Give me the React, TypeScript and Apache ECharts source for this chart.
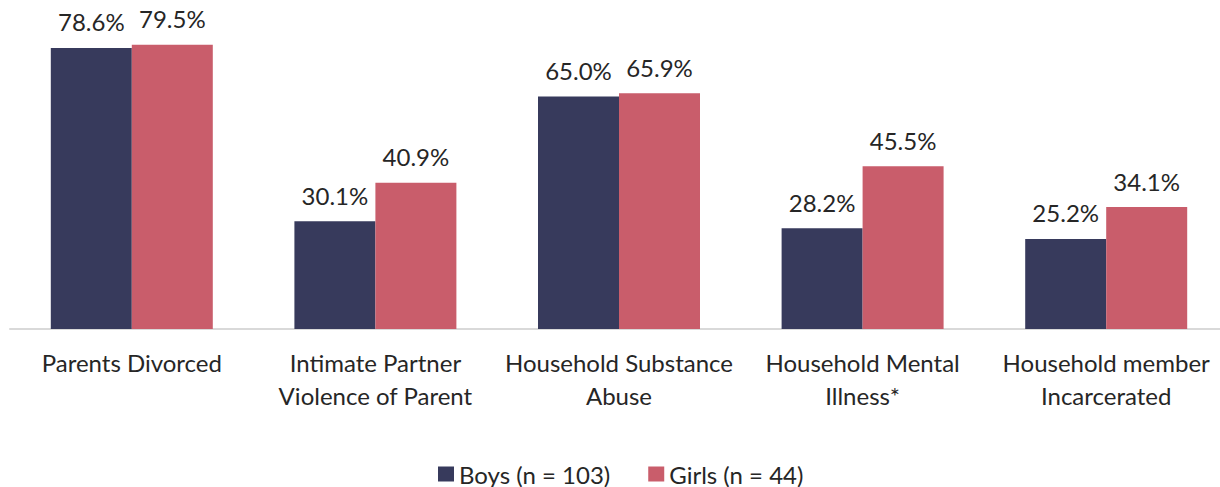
import React, { useEffect, useRef } from "react";
import * as echarts from "echarts";

const categories = [
  "Parents Divorced",
  "Intimate Partner\nViolence of Parent",
  "Household Substance\nAbuse",
  "Household Mental\nIllness*",
  "Household member\nIncarcerated",
];
const boys = [78.6, 30.1, 65.0, 28.2, 25.2];
const girls = [79.5, 40.9, 65.9, 45.5, 34.1];
const seriesNames = ["Boys (n = 103)", "Girls (n = 44)"];

const FONT = "Lato, 'Open Sans', sans-serif";

export default function App() {
  const ref = useRef<HTMLDivElement>(null);
  useEffect(() => {
    if (!ref.current) return;
    document.body.style.overflow = "hidden";
    const chart = echarts.init(ref.current, null, { renderer: "svg" });
    const label = {
      show: true,
      position: "top" as const,
      distance: 14,
      formatter: (p: any) => p.value.toFixed(1) + "%",
      color: "#262626",
      fontSize: 24,
      fontFamily: FONT,
    };
    chart.setOption({
      animation: false,
      backgroundColor: "#ffffff",
      textStyle: { fontFamily: FONT },
      grid: { left: 10, right: 0, top: 0, bottom: 158, containLabel: false },
      legend: {
        bottom: -4,
        left: 433,
        itemWidth: 16,
        itemHeight: 15,
        itemGap: 38,
        icon: "rect",
        textStyle: { fontSize: 24, color: "#262626", fontFamily: FONT },
        data: seriesNames,
      },
      xAxis: {
        type: "category",
        data: categories,
        axisLine: { lineStyle: { color: "#D9D9D9", width: 2 } },
        axisTick: { show: false },
        axisLabel: {
          interval: 0,
          fontSize: 24,
          color: "#262626",
          lineHeight: 33,
          margin: 17,
          fontFamily: FONT,
        },
      },
      yAxis: {
        type: "value",
        min: 0,
        max: 92,
        show: false,
        splitLine: { show: false },
      },
      series: [
        {
          name: seriesNames[0],
          type: "bar",
          data: boys,
          barGap: "0%",
          barCategoryGap: "33.5%",
          itemStyle: { color: "#373A5C" },
          label,
        },
        {
          name: seriesNames[1],
          type: "bar",
          data: girls,
          itemStyle: { color: "#C95D6B" },
          label,
        },
      ],
    });
    return () => chart.dispose();
  }, []);
  return (
    <div
      ref={ref}
      style={{ position: "fixed", left: 0, top: 0, width: 1227.5, height: 487 }}
    />
  );
}
